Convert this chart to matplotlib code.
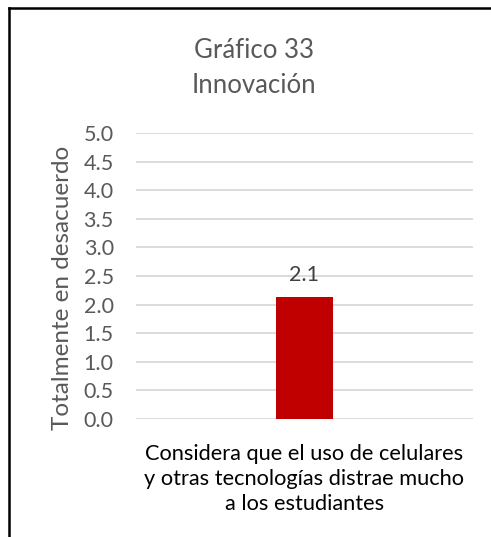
import matplotlib.pyplot as plt
from matplotlib.lines import Line2D

# datos
categorias = ["Considera que el uso de celulares\ny otras tecnologías distrae mucho\na los estudiantes"]
valores = [2.13]
etiquetas = ["2.1"]
ticks_y = [0.0, 0.5, 1.0, 1.5, 2.0, 2.5, 3.0, 3.5, 4.0, 4.5, 5.0]

plt.rcParams['font.family'] = ['Lato', 'DejaVu Sans']

fig = plt.figure(figsize=(4.91, 5.37), dpi=100)
ax = fig.add_axes([0.277, 0.2197, 0.686, 0.5326])

x = list(range(len(categorias)))
ax.bar(x, valores, width=0.17, color='#c00000', zorder=3)
for xi, v, t in zip(x, valores, etiquetas):
    ax.text(xi, v + 0.22, t, ha='center', va='bottom', fontsize=15.5, color='#404040')

ax.set_xlim(-0.5, 0.5)
ax.set_ylim(0, 5)
ax.set_yticks(ticks_y)
ax.set_yticklabels(["%.1f" % t for t in ticks_y])
ax.set_xticks(x)
ax.set_xticklabels(categorias, fontsize=15.7, color='black', linespacing=1.3)
ax.tick_params(axis='y', length=0, labelsize=15.5, labelcolor='#595959', pad=16)
ax.tick_params(axis='x', length=0, pad=18)
ax.grid(axis='y', color='#d9d9d9', linewidth=1.3, zorder=0)
for s in ax.spines.values():
    s.set_visible(False)

ax.set_ylabel("Totalmente en desacuerdo", fontsize=17.5, color='#595959')
ax.yaxis.set_label_coords(-0.187, 0.46)

fig.text(254 / 491, 1 - 51 / 537, "Gráfico 33", ha='center', va='center', fontsize=18.5, color='#595959')
fig.text(254 / 491, 1 - 86 / 537, "Innovación", ha='center', va='center', fontsize=18.5, color='#595959')

# borde del recuadro (solo arriba e izquierda visibles)
fig.add_artist(Line2D([8.5 / 491, 1.0], [1 - 7.5 / 537, 1 - 7.5 / 537], color='black', linewidth=1.8, transform=fig.transFigure))
fig.add_artist(Line2D([8.5 / 491, 8.5 / 491], [0.0, 1 - 7.5 / 537], color='black', linewidth=1.8, transform=fig.transFigure))

fig.savefig("out.png", dpi=100)
